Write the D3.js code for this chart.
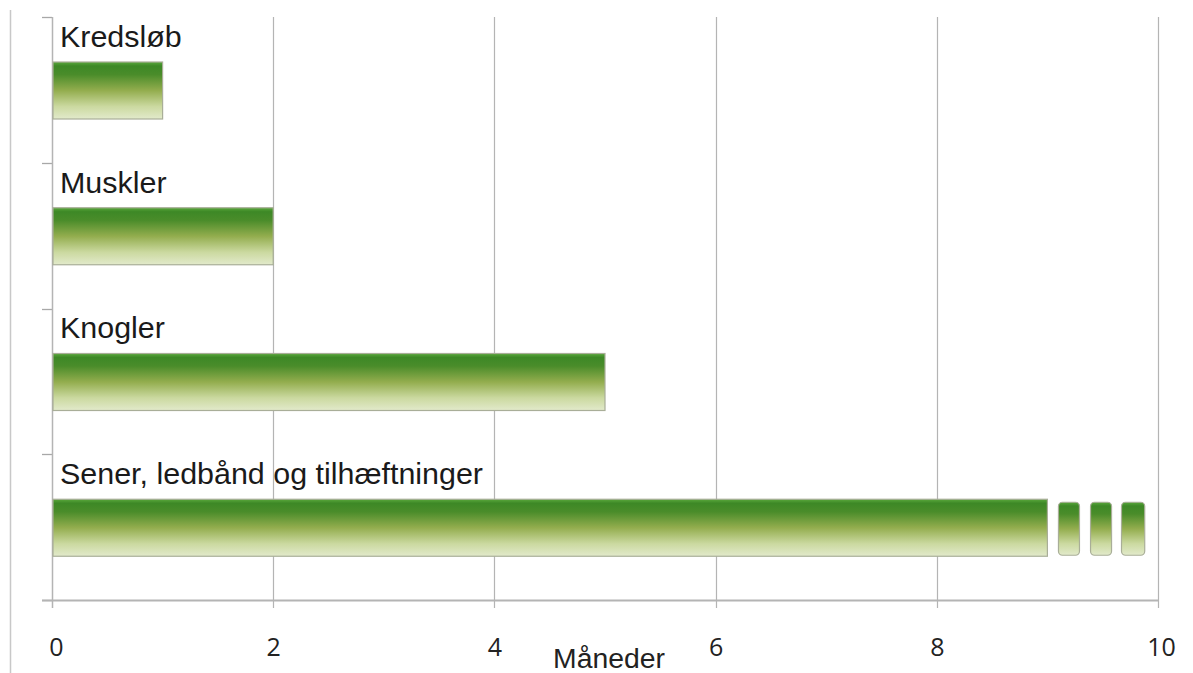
<!DOCTYPE html>
<html>
<head>
<meta charset="utf-8">
<script src="https://cdn.jsdelivr.net/npm/d3@7"></script>
<style>
  html, body { margin: 0; padding: 0; background: #fff; }
  svg { display: block; }
</style>
</head>
<body>
<script>
// Healing time per tissue type (months)
const categories = ["Kredsløb", "Muskler", "Knogler", "Sener, ledbånd og tilhæftninger"];
const months = [1, 2, 5, 9];
// Dashed continuation after the longest bar: [start, end] in months
const continuation = [[9.1, 9.29], [9.39, 9.58], [9.67, 9.88]];
const xTicks = [0, 2, 4, 6, 8, 10];
const xTitle = "Måneder";

const W = 1193, H = 673;
const plotLeft = 52, plotRight = 1158, plotTop = 17, plotBottom = 600;

const svg = d3.select("body").append("svg").attr("width", W).attr("height", H);

const defs = svg.append("defs");
const grad = defs.append("linearGradient").attr("id", "barFill")
  .attr("x1", 0).attr("y1", 0).attr("x2", 0).attr("y2", 1);
[[0, "#5aa83c"], [0.07, "#3d8826"], [0.22, "#4a8c2a"], [0.5, "#93ad4e"], [0.78, "#cbd9a0"], [1, "#e2eacb"]]
  .forEach(([o, c]) => grad.append("stop").attr("offset", o).attr("stop-color", c));

const x = d3.scaleLinear().domain([0, 10]).range([plotLeft, plotRight]);
const y = d3.scaleBand().domain(categories).range([plotTop, plotBottom]);

// page border line on the left
svg.append("line").attr("x1", 10.5).attr("x2", 10.5).attr("y1", 10).attr("y2", H)
  .attr("stroke", "#c8c8c8").attr("stroke-width", 1.5);

// vertical gridlines
svg.append("g").selectAll("line").data(xTicks.filter(d => d > 0)).join("line")
  .attr("x1", d => Math.round(x(d)) + 0.5).attr("x2", d => Math.round(x(d)) + 0.5)
  .attr("y1", plotTop).attr("y2", plotBottom + 8)
  .attr("stroke", "#b4b4b4").attr("stroke-width", 1.2);

// x axis labels
const xAxis = d3.axisBottom(x).tickValues(xTicks).tickSize(0).tickPadding(0).tickFormat(d3.format("d"));
const gx = svg.append("g").attr("transform", `translate(0,${plotBottom})`).call(xAxis);
gx.select(".domain").remove();
gx.selectAll("text")
  .attr("y", 56).attr("dy", 0)
  .attr("font-family", "'Open Sans', 'Liberation Sans', sans-serif")
  .attr("font-size", 25).attr("fill", "#222")
  .attr("dx", d => d === 0 ? 4 : (d === 10 ? 3 : 0));

// y axis line and ticks
const yEdges = categories.map(c => y(c)).concat([plotBottom]);
svg.append("g").selectAll("line").data(yEdges).join("line")
  .attr("x1", plotLeft - 10).attr("x2", plotLeft)
  .attr("y1", d => Math.round(d) + 0.5).attr("y2", d => Math.round(d) + 0.5)
  .attr("stroke", "#a8a8a8").attr("stroke-width", 1.3);
svg.append("line").attr("x1", plotLeft + 0.5).attr("x2", plotLeft + 0.5).attr("y1", plotTop).attr("y2", plotBottom + 8)
  .attr("stroke", "#b4b4b4").attr("stroke-width", 1.5);
svg.append("line").attr("x1", plotLeft - 10).attr("x2", plotRight).attr("y1", plotBottom + 0.5).attr("y2", plotBottom + 0.5)
  .attr("stroke", "#b4b4b4").attr("stroke-width", 2);

// bars
const barOffset = 45, barH = 57;
svg.append("g").selectAll("rect").data(categories).join("rect")
  .attr("x", x(0) + 1).attr("y", c => y(c) + barOffset)
  .attr("width", (c, i) => x(months[i]) - x(0) - 1).attr("height", barH)
  .attr("fill", "url(#barFill)")
  .attr("stroke", "#a9ae98").attr("stroke-width", 1.2);

// continuation segments
const last = categories[categories.length - 1];
svg.append("g").selectAll("rect").data(continuation).join("rect")
  .attr("x", d => x(d[0])).attr("y", y(last) + barOffset + 3)
  .attr("width", d => x(d[1]) - x(d[0])).attr("height", barH - 4)
  .attr("rx", 4).attr("ry", 4)
  .attr("fill", "url(#barFill)")
  .attr("stroke", "#a9ae98").attr("stroke-width", 1.2);

// category labels
svg.append("g").selectAll("text").data(categories).join("text")
  .attr("x", 60).attr("y", c => y(c) + 30)
  .attr("font-family", "'Liberation Sans', Arial, sans-serif")
  .attr("font-size", 29).attr("fill", "#1a1a1a")
  .attr("transform", c => `translate(60,0) scale(1.05,1) translate(-60,0)`)
  .text(c => c);

// axis title
svg.append("text").attr("x", 609).attr("y", 668).attr("text-anchor", "middle")
  .attr("font-family", "'Liberation Sans', Arial, sans-serif")
  .attr("font-size", 27).attr("fill", "#222")
  .attr("transform", "translate(609,0) scale(1.05,1) translate(-609,0)")
  .text(xTitle);
</script>
</body>
</html>
